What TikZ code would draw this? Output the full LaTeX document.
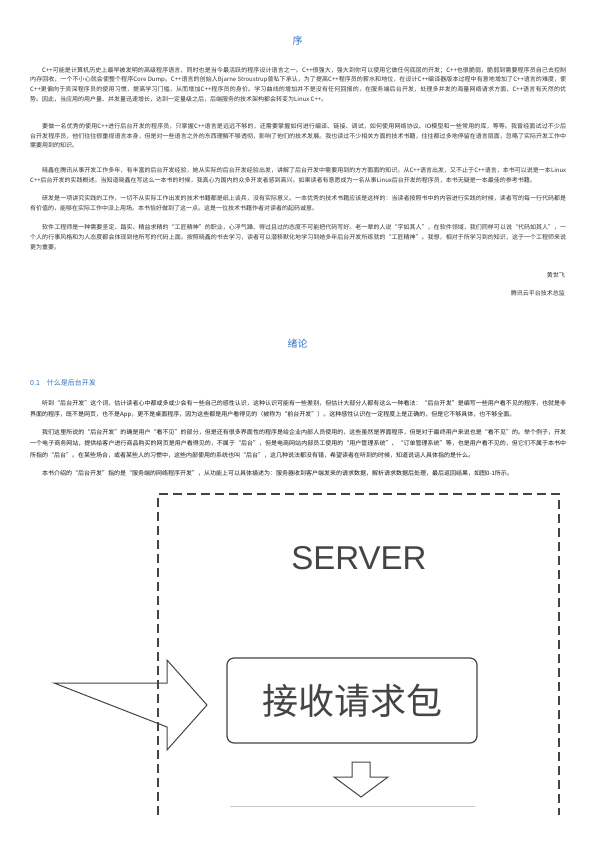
\documentclass[tikz,border=0pt]{standalone}
\usepackage{fontspec}
\setmainfont{Noto Sans CJK SC}
\newfontfamily\latinsans{Liberation Sans}
\XeTeXlinebreaklocale "zh"
\XeTeXlinebreakskip=0pt plus 1pt minus 0.1pt
\definecolor{titleblue}{HTML}{2E74C0}
\definecolor{pretext}{HTML}{333333}
\definecolor{bodytext}{HTML}{1A1A1A}
\definecolor{figgray}{HTML}{444444}
\newcommand{\bodyfont}{\fontsize{6}{7}\selectfont}
\tikzset{
  titletext/.style={inner sep=0pt, text=titleblue, font=\fontsize{10}{12}\selectfont},
  fullline/.style={anchor=base west, inner sep=0pt, text width=536pt, align=justify,
    text=bodytext, font=\bodyfont, execute at begin node={\parfillskip=0pt\relax}},
  endline/.style={anchor=base west, inner sep=0pt, text=bodytext, font=\bodyfont},
  prefull/.style={fullline, text=pretext},
  preend/.style={endline, text=pretext},
  rightline/.style={anchor=base east, inner sep=0pt, text=pretext, font=\bodyfont},
  figdash/.style={draw=figgray, line width=1.3pt, dash pattern=on 9pt off 5pt},
  figline/.style={draw=figgray, line width=1pt},
  recvbox/.style={draw=figgray, line width=1.2pt, rounded corners=7pt, minimum width=250pt,
    minimum height=85pt, inner sep=0pt, text=figgray, font=\fontsize{36}{38}\selectfont},
}
\begin{document}
\begin{tikzpicture}[x=1pt,y=-1pt]
\useasboundingbox (0,0) rectangle (595,842);
\clip (0,0) rectangle (595,842);
\fill[white] (0,0) rectangle (595,842);

% ---------- preface ----------
\node[titletext] (xu) at (297.5,41) {序};

\node[prefull] (p1a) at (30,72.2) {\hspace*{12pt}C++可能是计算机历史上最早被发明的高级程序语言，同时也是当今最活跃的程序设计语言之一。C++很强大，强大到你可以使用它做任何底层的开发；C++也很脆弱，脆弱到需要程序员自己去控制};
\node[prefull] (p1b) at (30,81.9) {内存回收，一个不小心就会使整个程序Core Dump。C++语言的创始人Bjarne Stroustrup曾私下承认，为了提高C++程序员的薪水和地位，在设计C++编译器版本过程中有意地增加了C++语言的难度，使};
\node[prefull] (p1c) at (30,91.6) {C++更偏向于资深程序员的使用习惯，提高学习门槛，从而增加C++程序员的身价。学习曲线的增加并不是没有任何回报的，在服务端后台开发，处理多并发的海量网络请求方面，C++语言有天然的优};
\node[preend] (p1d) at (30,101.3) {势。因此，当应用的用户量、并发量迅速增长，达到一定量级之后，后端服务的技术架构都会转变为Linux C++。};

\node[prefull] (p2a) at (30,128.6) {\hspace*{12pt}要做一名优秀的使用C++进行后台开发的程序员，只掌握C++语言是远远不够的，还需要掌握如何进行编译、链接、调试，如何使用网络协议、IO模型和一些常用的库，等等。我曾经面试过不少后};
\node[prefull] (p2b) at (30,138.3) {台开发程序员，他们往往很重视语言本身，但是对一些语言之外的东西理解不够透彻，影响了他们的技术发展。我也读过不少相关方面的技术书籍，往往都过多地停留在语言层面，忽略了实际开发工作中};
\node[preend] (p2c) at (30,148.0) {需要用到的知识。};

\node[prefull] (p3a) at (30,172.6) {\hspace*{12pt}晓鑫在腾讯从事开发工作多年，有丰富的后台开发经验，她从实际的后台开发经验出发，讲解了后台开发中需要用到的方方面面的知识。从C++语言出发，又不止于C++语言，本书可以说是一本Linux};
\node[preend] (p3b) at (30,182.3) {C++后台开发的实践概述。当知道晓鑫在写这么一本书的时候，我真心为国内的众多开发者感到高兴。如果读者有意愿成为一名从事Linux后台开发的程序员，本书无疑是一本最佳的参考书籍。};

\node[prefull] (p4a) at (30,200.6) {\hspace*{12pt}研发是一项讲究实践的工作，一切不从实际工作出发的技术书籍都是纸上谈兵，没有实际意义。一本优秀的技术书籍应该是这样的：当读者按照书中的内容进行实践的时候，读者写的每一行代码都是};
\node[preend] (p4b) at (30,210.3) {有价值的，能够在实际工作中派上用场。本书恰好做到了这一点。这是一位技术书籍作者对读者的起码诚意。};

\node[prefull] (p5a) at (30,229.6) {\hspace*{12pt}软件工程师是一种需要坚定、踏实、精益求精的“工匠精神”的职业，心浮气躁、得过且过的态度不可能把代码写好。老一辈的人说“字如其人”，在软件领域，我们同样可以说“代码如其人”，一};
\node[prefull] (p5b) at (30,239.3) {个人的行事风格和为人态度都会体现到他所写的代码上面。按照晓鑫的书去学习，读者可以潜移默化地学习到她多年后台开发所练就的“工匠精神”。我想，相对于所学习到的知识，这于一个工程师来说};
\node[preend] (p5c) at (30,249.0) {更为重要。};

\node[rightline] (sig1) at (565,277.2) {黄世飞};
\node[rightline] (sig2) at (565,295.2) {腾讯云平台技术总监};

% ---------- introduction ----------
\node[titletext] (xulun) at (297.5,344) {绪论};
\node[anchor=base west, inner sep=0pt, text=titleblue, font=\fontsize{7}{8}\selectfont] (h01) at (30,385.5) {0.1\hspace{7pt}什么是后台开发};

\node[fullline] (a1) at (30,405.2) {\hspace*{12pt}听到“后台开发”这个词，估计读者心中都或多或少会有一些自己的感性认识，这种认识可能有一些差别，但估计大部分人都有这么一种看法：“后台开发”是编写一些用户看不见的程序，也就是非};
\node[endline] (a2) at (30,416.7) {界面的程序，既不是网页，也不是App，更不是桌面程序，因为这些都是用户看得见的（被称为“前台开发”）。这种感性认识在一定程度上是正确的，但是它不够具体，也不够全面。};

\node[fullline] (b1) at (30,434.2) {\hspace*{12pt}我们这里所说的“后台开发”的确是用户“看不见”的部分，但是还有很多界面性的程序是给企业内部人员使用的，这些虽然是界面程序，但是对于最终用户来说也是“看不见”的。举个例子，开发};
\node[fullline] (b2) at (30,445.7) {一个电子商务网站，提供给客户进行商品购买的网页是用户看得见的，不属于“后台”，但是电商网站内部员工使用的“用户管理系统”、“订单管理系统”等，也是用户看不见的，但它们不属于本书中};
\node[endline] (b3) at (30,457.2) {所指的“后台”。在某些场合，或者某些人的习惯中，这些内部使用的系统也叫“后台”，这几种说法都没有错，希望读者在听到的时候，知道说话人具体指的是什么。};

\node[endline] (c1) at (30,475.2) {\hspace*{12pt}本书介绍的“后台开发”指的是“服务端的网络程序开发”，从功能上可以具体描述为：服务器收到客户端发来的请求数据，解析请求数据后处理，最后返回结果，如图0-1所示。};

% ---------- figure ----------
\draw[figdash] (158,815) -- (158,494) -- (559,494) -- (559,815);
\node[inner sep=0pt, text=figgray, font=\latinsans\fontsize{33}{35}\selectfont] (server) at (359,558) {SERVER};
\node[recvbox] (recv) at (352,700.5) {接收请求包};
\coordinate (tip) at (207,705);
\draw[figline] (54,683) -- (167,683) -- (167,660) -- (tip) -- (167,750) -- (167,727) -- cycle;
\draw[figline, fill=white] (352,762) -- (370,762) -- (370,777) -- (388,777) -- (361,797) -- (334,777) -- (352,777) -- cycle;
\draw[draw=figgray!30, line width=0.8pt] (230,806) -- (475,806);
\end{tikzpicture}
\end{document}
